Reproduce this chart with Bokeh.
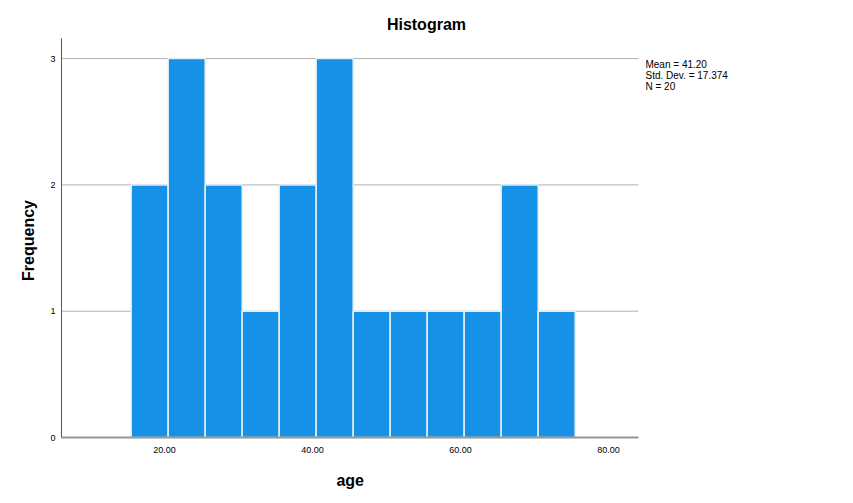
import math
from bokeh.plotting import figure
from bokeh.models import Range1d, Label
from bokeh.core.properties import value
from bokeh.embed import file_html
from bokeh.resources import INLINE

# Data
bin_left = [15.5, 20.5, 25.5, 30.5, 35.5, 40.5, 45.5, 50.5, 55.5, 60.5, 65.5, 70.5]
bin_width = 5.0
counts = [2, 3, 2, 1, 2, 3, 1, 1, 1, 1, 2, 1]
x_ticks = [20, 40, 60, 80]
x_tick_labels = ["20.00", "40.00", "60.00", "80.00"]
y_ticks = [0, 1, 2, 3]
y_tick_labels = ["0", "1", "2", "3"]
grid_levels = [1, 2, 3]
stats_lines = ["Mean = 41.20", "Std. Dev. = 17.374", "N = 20"]

FONT = "Liberation Sans"
X0, X1 = 6.08, 84.05   # visible axis extent
Y1 = 3.16

p = figure(width=845, height=495, output_backend="svg", toolbar_location=None,
           x_range=Range1d(-2.16, 112.03), y_range=Range1d(-0.459, 3.46),
           min_border_left=0, min_border_right=0, min_border_top=0,
           min_border_bottom=0)
p.outline_line_color = None
p.background_fill_color = "white"
p.xgrid.visible = False
p.ygrid.visible = False
p.xaxis.visible = False
p.yaxis.visible = False

# grid lines
p.segment(x0=[X0] * len(grid_levels), x1=[X1] * len(grid_levels),
          y0=grid_levels, y1=grid_levels, line_color="#b0b0b0", line_width=1)

# bars
rights = [b + bin_width for b in bin_left]
p.quad(left=bin_left, right=rights, bottom=0, top=counts,
       fill_color="#1592E8", line_color="#e4eef5", line_width=1.5)

# axis lines
p.segment(x0=[X0], x1=[X1], y0=[0], y1=[0], line_color="#8f989e", line_width=2)
p.segment(x0=[X0], x1=[X0], y0=[0], y1=[Y1], line_color="#555555", line_width=1)

# x tick labels
p.text(x=x_ticks, y=[0] * len(x_ticks), text=x_tick_labels, y_offset=12,
       text_font=value(FONT), text_font_size="9px", text_align="center",
       text_baseline="middle", text_color="black")

# y tick labels
p.text(x=[X0] * len(y_ticks), y=y_ticks, text=y_tick_labels, x_offset=-6,
       text_font=value(FONT), text_font_size="9px", text_align="right",
       text_baseline="middle", text_color="black")

# axis titles
p.add_layout(Label(x=45.1, y=-0.34, text="age", text_font=FONT,
                   text_font_size="16px", text_font_style="bold",
                   text_align="center", text_baseline="middle", text_color="black"))
p.add_layout(Label(x=1.62, y=1.56, text="Frequency", text_font=FONT,
                   text_font_size="16px", text_font_style="bold", angle=math.pi / 2,
                   text_align="center", text_baseline="middle", text_color="black"))

# title
p.add_layout(Label(x=55.4, y=3.27, text="Histogram", text_font=FONT,
                   text_font_size="16px", text_font_style="bold",
                   text_align="center", text_baseline="middle", text_color="black"))

# stats
for i, s in enumerate(stats_lines):
    p.add_layout(Label(x=85.0, y=2.955 - i * 0.088, text=s, text_font=FONT,
                       text_font_size="10px", text_align="left",
                       text_baseline="middle", text_color="black"))

open("out.html", "w").write(file_html(p, INLINE))
